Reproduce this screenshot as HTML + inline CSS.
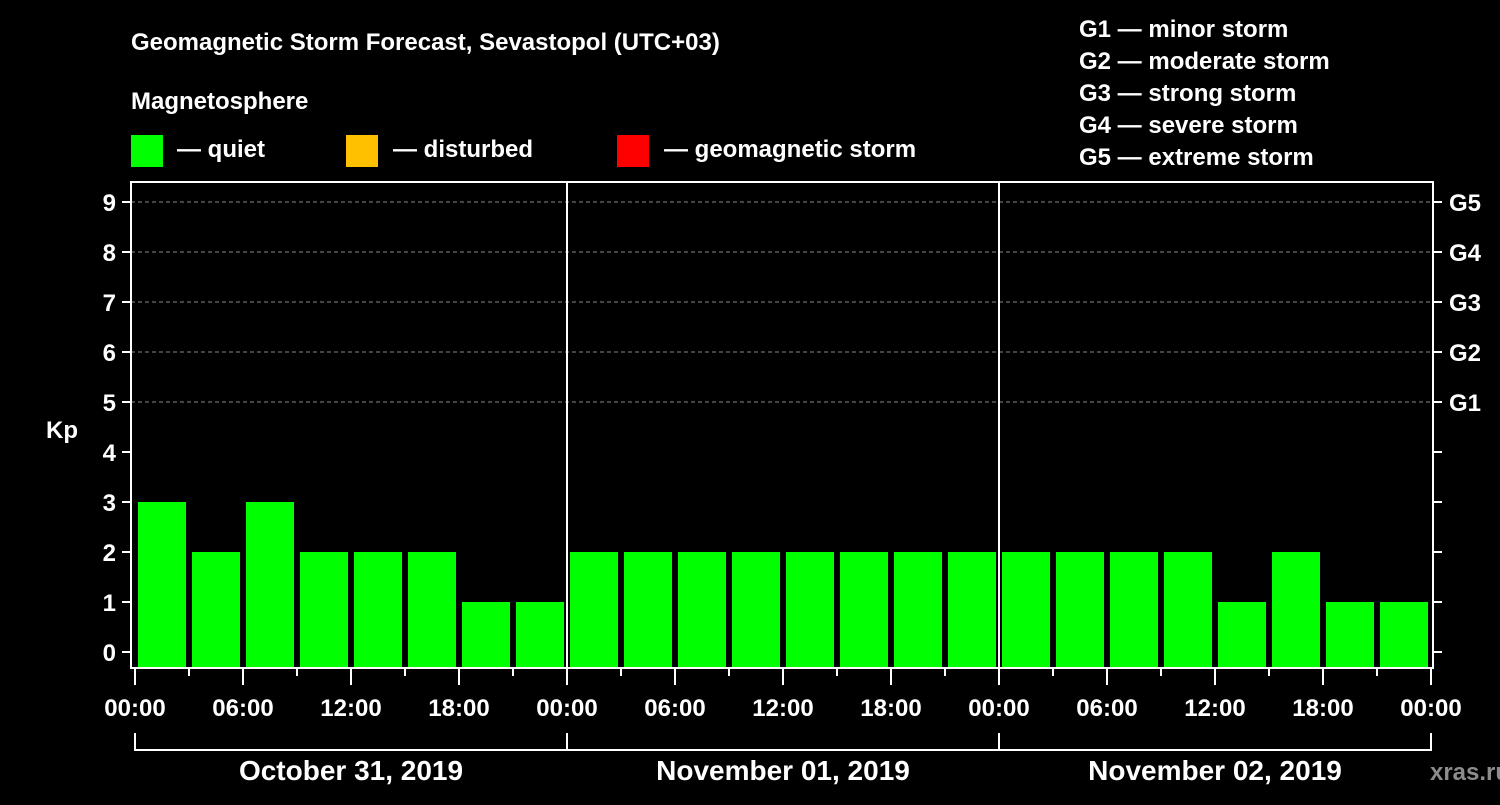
<!DOCTYPE html>
<html><head><meta charset="utf-8"><style>
body{margin:0;background:#000;}
svg text{font-family:"Liberation Sans",Arial,sans-serif;font-weight:bold;fill:#fff;}
</style></head><body>
<svg id="c" width="1500" height="800" xmlns="http://www.w3.org/2000/svg">
<rect width="1500" height="800" fill="#000"/>
<text x="131" y="50" font-size="24">Geomagnetic Storm Forecast, Sevastopol (UTC+03)</text>
<text x="131" y="109" font-size="24">Magnetosphere</text>
<rect x="131" y="135" width="32" height="32" fill="#00ff00"/>
<text x="177" y="157" font-size="24">— quiet</text>
<rect x="346" y="135" width="32" height="32" fill="#ffc000"/>
<text x="393" y="157" font-size="24">— disturbed</text>
<rect x="617" y="135" width="32" height="32" fill="#ff0000"/>
<text x="664" y="157" font-size="24">— geomagnetic storm</text>
<g font-size="24">
<text x="1079" y="37">G1 — minor storm</text>
<text x="1079" y="69">G2 — moderate storm</text>
<text x="1079" y="101">G3 — strong storm</text>
<text x="1079" y="133">G4 — severe storm</text>
<text x="1079" y="165">G5 — extreme storm</text>
</g>
<text x="62" y="438" font-size="24" text-anchor="middle">Kp</text>
<text x="1470" y="780" font-size="24" text-anchor="middle" fill="#888" style="fill:#8c8c8c">xras.ru</text>
<g id="plot"></g>
</svg>
<script>
const kpValues=[3,2,3,2,2,2,1,1, 2,2,2,2,2,2,2,2, 2,2,2,2,1,2,1,1];
const dayLabels=["October 31, 2019","November 01, 2019","November 02, 2019"];
const hourLabels=["00:00","06:00","12:00","18:00"];
const yTicks=[0,1,2,3,4,5,6,7,8,9];
const gLabels=["G1","G2","G3","G4","G5"];
const NS="http://www.w3.org/2000/svg";
const g=document.getElementById('plot');
const L=131,R=1433,T=182,B=668,X0=135,DAY=432;
const y=v=>652-v*50;
const x=h=>X0+h*DAY/24;
function mk(t,a,txt){const e=document.createElementNS(NS,t);for(const k in a)e.setAttribute(k,a[k]);if(txt!=null)e.textContent=txt;g.appendChild(e);return e;}
// grid
for(const v of [5,6,7,8,9]){const e=mk('line',{x1:L,x2:R,y1:y(v),y2:y(v),stroke:'#888','stroke-dasharray':'4,3','stroke-width':1});

}
// bars
kpValues.forEach((v,i)=>{const c=v>=5?'#ff0000':v>=4?'#ffc000':'#00ff00';
const e=mk('rect',{x:x(i*3)+3,y:y(v),width:48,height:B-y(v),fill:c});

});
// day separators
for(let d=1;d<3;d++){const e=mk('line',{x1:x(d*24),x2:x(d*24),y1:T,y2:B,stroke:'#fff','stroke-width':2});

}
// frame
const f=mk('rect',{x:L,y:T,width:R-L,height:B-T,fill:'none',stroke:'#fff','stroke-width':2});


// y ticks
yTicks.forEach(v=>{mk('line',{x1:122,x2:L,y1:y(v),y2:y(v),stroke:'#fff','stroke-width':2});
mk('line',{x1:R,x2:1442,y1:y(v),y2:y(v),stroke:'#fff','stroke-width':2});
const t=mk('text',{x:116,y:y(v)+9,'font-size':24,'text-anchor':'end'},v);

});
gLabels.forEach((s,i)=>{const t=mk('text',{x:1449,y:y(i+5)+9,'font-size':24},s);

});
// x ticks
for(let i=0;i<=24;i++){const h=i*3;const major=i%2==0;
mk('line',{x1:x(h),x2:x(h),y1:B,y2:major?685:676,stroke:'#fff','stroke-width':2});
if(major){const t=mk('text',{x:x(h),y:716,'font-size':24,'text-anchor':'middle'},hourLabels[(i/2)%4]);

}}
// day brackets
dayLabels.forEach((s,d)=>{const a=x(d*24),b=x(d*24+24);
mk('path',{d:`M${a},733V750H${b}${d==2?'V733':''}`,fill:'none',stroke:'#fff','stroke-width':2});
const t=mk('text',{x:(a+b)/2,y:780,'font-size':28,'text-anchor':'middle'},s);

});
</script>
</body></html>
